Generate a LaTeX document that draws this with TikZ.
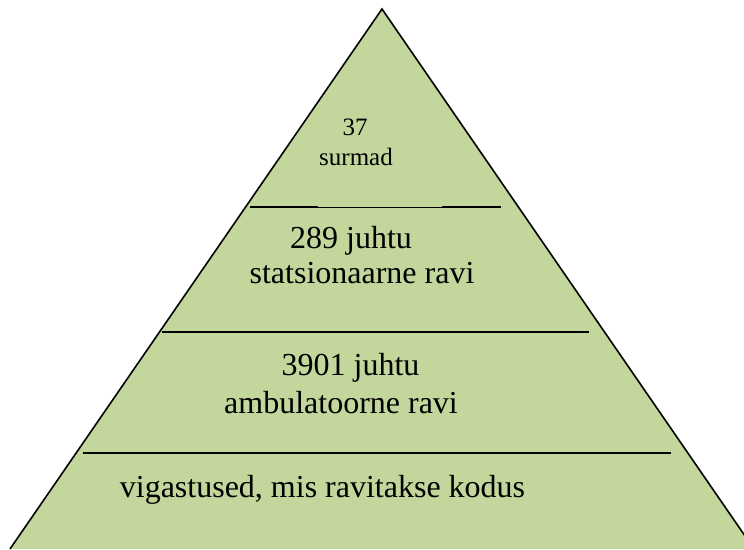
\documentclass[tikz,border=0pt]{standalone}
\usepackage{fontspec}
\setmainfont{Liberation Serif}
\definecolor{pyrgreen}{RGB}{195,214,155}
\tikzset{
  lbl/.style={anchor=base, inner sep=0pt, font=\fontsize{32}{36}\selectfont},
  lblsmall/.style={anchor=base, inner sep=0pt, font=\fontsize{25}{29}\selectfont},
  divider/.style={line width=1.5pt, black},
  thindivider/.style={line width=0.9pt, black}
}
\begin{document}
\begin{tikzpicture}[x=1pt, y=-1pt]
\useasboundingbox (0,0) rectangle (744,549);
\begin{scope}
\clip (0,0) rectangle (744,549);
\coordinate (apex) at (382,9);
\coordinate (bl) at (10,549);
\coordinate (br) at (754,549);
\draw[fill=pyrgreen, line width=1.6pt, line join=miter] (bl) -- (apex) -- (br);
\end{scope}
% dividers
\coordinate (d1a) at (250,207);
\coordinate (d1b) at (318,207);
\coordinate (d1c) at (442,207);
\coordinate (d1d) at (501,207);
\draw[divider] (d1a) -- (d1b);
\draw[thindivider] (d1b) -- (d1c);
\draw[divider] (d1c) -- (d1d);
\coordinate (d2a) at (162,332);
\coordinate (d2b) at (589,332);
\draw[divider] (d2a) -- (d2b);
\coordinate (d3a) at (83,453);
\coordinate (d3b) at (671,453);
\draw[divider] (d3a) -- (d3b);
% texts
\node[lblsmall] (t37) at (355,135) {37};
\node[lblsmall] (tsur) at (356,165) {surmad};
\node[lbl] (t289) at (351,248) {289 juhtu};
\node[lbl] (tstat) at (362,283) {statsionaarne ravi};
\node[lbl] (t3901) at (350.5,375) {3901 juhtu};
\node[lbl] (tamb) at (341,413) {ambulatoorne ravi};
\node[lbl] (tvig) at (322.5,497) {vigastused, mis ravitakse kodus};
\end{tikzpicture}
\end{document}
